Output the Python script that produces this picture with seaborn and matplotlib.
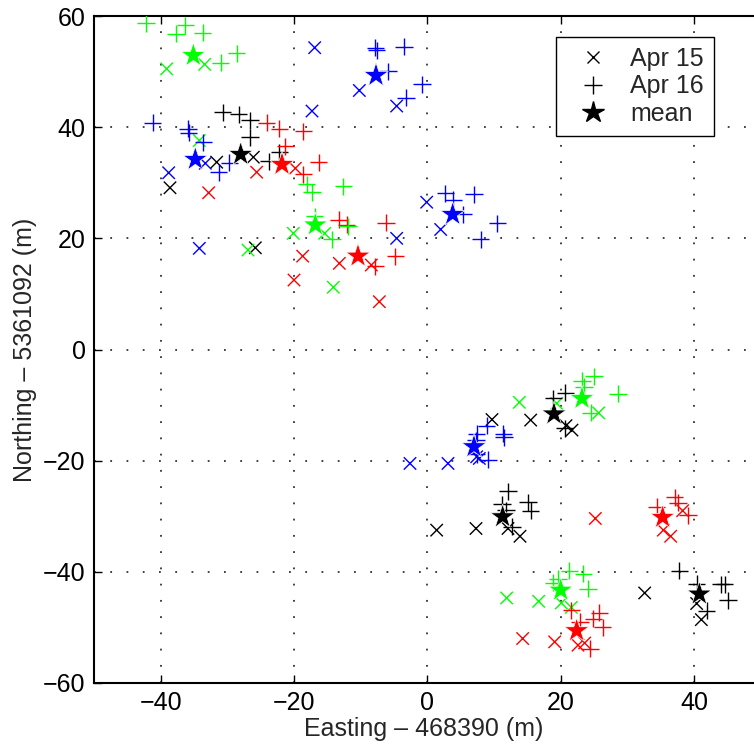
import numpy as np
import pandas as pd
import matplotlib
matplotlib.use("Agg")
import matplotlib.pyplot as plt
from matplotlib import font_manager as fm
from matplotlib.lines import Line2D
import seaborn as sns

# ---------------- data (easting, northing offsets in m) ----------------
black_apr15_x = [-31.6, -26.1, -38.6, -25.8, 9.7, 15.5, 20.8, 21.7, 1.4, 7.3, 12.1, 13.9, 32.6, 40.4, 41.1]
black_apr15_y = [33.7, 34.6, 29.1, 18.3, -12.6, -12.7, -13.7, -14.5, -32.5, -32.2, -32.2, -33.6, -43.8, -45.7, -48.6]
black_apr16_x = [-30.7, -28.3, -26.6, -26.6, -22.2, -23.8, 20.7, 18.9, 20.6, 12.1, 11.2, 15.1, 15.5, 11.8, 12.7,
                 37.8, 40.4, 44.0, 44.6, 45.1, 41.9]
black_apr16_y = [42.7, 42.3, 41.2, 38.2, 35.5, 33.9, -7.8, -8.8, -14.2, -25.5, -27.8, -27.5, -29.0, -28.9, -31.9,
                 -39.8, -42.1, -42.2, -42.2, -45.1, -47.0]
black_mean_x = [-28.0, 19.0, 11.3, 40.8]
black_mean_y = [35.1, -11.6, -30.1, -44.0]

blue_apr15_x = [-16.9, -17.3, -10.2, -4.6, -33.3, -38.8, -34.2, -0.1, 2.0, -4.6, 7.4, 7.8, -2.6, 3.1]
blue_apr15_y = [54.3, 42.9, 46.6, 43.8, 33.5, 31.8, 18.2, 26.5, 21.6, 20.0, -19.3, -19.6, -20.5, -20.5]
blue_apr16_x = [-7.8, -7.6, -3.5, -5.9, -0.8, -3.2, -41.2, -35.9, -35.8, -33.6, -29.7, -31.3, 2.7, 3.9, 5.4,
                7.0, 10.5, 8.0, 8.9, 7.4, 7.3, 11.4, 11.5, 9.1, 7.4]
blue_apr16_y = [54.3, 53.8, 54.5, 50.1, 47.7, 45.3, 40.8, 39.7, 39.0, 37.3, 33.6, 31.9, 28.1, 26.9, 24.3,
                27.9, 22.7, 19.8, -13.7, -15.2, -16.3, -15.2, -15.8, -19.8, -18.8]
blue_mean_x = [-34.8, -7.7, 3.8, 7.0]
blue_mean_y = [34.2, 49.3, 24.3, -17.5]

red_apr15_x = [-19.8, -25.6, -32.8, -18.7, -13.2, -8.4, -20.0, -7.2, 25.2, 35.4, 36.5, 38.3, 14.3, 19.1, 22.6, 23.6]
red_apr15_y = [32.6, 31.9, 28.2, 16.8, 15.5, 15.2, 12.5, 8.6, -30.4, -32.5, -33.6, -29.0, -52.0, -52.6, -53.2, -52.8]
red_apr16_x = [-24.1, -22.2, -18.6, -21.3, -18.6, -16.3, -13.3, -12.1, -6.2, -7.8, -4.8, 34.4, 37.1, 37.6, 39.1,
               21.6, 22.9, 24.9, 25.8, 26.3, 24.4]
red_apr16_y = [40.8, 39.7, 39.3, 36.6, 31.5, 33.7, 23.3, 22.4, 22.8, 15.0, 16.8, -28.3, -26.6, -27.6, -29.8,
               -46.9, -49.0, -48.4, -47.4, -50.0, -53.8]
red_mean_x = [-21.8, -10.4, 35.3, 22.4]
red_mean_y = [33.3, 16.8, -30.2, -50.6]

green_apr15_x = [-39.1, -33.4, -34.2, -20.1, -15.4, -26.9, -14.1, 13.8, 19.4, 25.7, 11.9, 16.7, 20.1, 21.6]
green_apr15_y = [50.5, 51.3, 37.6, 20.9, 20.9, 17.9, 11.2, -9.5, -9.7, -11.4, -44.7, -45.3, -45.6, -46.4]
green_apr16_x = [-42.2, -36.3, -37.7, -33.7, -31.0, -28.6, -18.1, -17.3, -12.6, -16.9, -11.9, -14.3, 25.0, 23.2,
                 23.5, 28.6, 24.5, 21.3, 23.4, 24.1, 18.9, 19.6]
green_apr16_y = [58.7, 58.3, 56.8, 57.0, 51.6, 53.3, 29.7, 28.3, 29.4, 24.0, 22.2, 19.8, -4.8, -5.6,
                 -6.7, -8.0, -11.4, -39.8, -40.3, -43.0, -42.0, -41.2]
green_mean_x = [-35.1, -16.8, 23.2, 20.0]
green_mean_y = [52.9, 22.4, -8.8, -43.3]

kinds = ["Apr 15", "Apr 16", "mean"]
x_ticks = [-40, -20, 0, 20, 40]
y_ticks = [-60, -40, -20, 0, 20, 40, 60]

series = {
    "black": [(black_apr15_x, black_apr15_y), (black_apr16_x, black_apr16_y), (black_mean_x, black_mean_y)],
    "blue": [(blue_apr15_x, blue_apr15_y), (blue_apr16_x, blue_apr16_y), (blue_mean_x, blue_mean_y)],
    "red": [(red_apr15_x, red_apr15_y), (red_apr16_x, red_apr16_y), (red_mean_x, red_mean_y)],
    "green": [(green_apr15_x, green_apr15_y), (green_apr16_x, green_apr16_y), (green_mean_x, green_mean_y)],
}
rows = []
for col, parts in series.items():
    for kind, (xs, ys) in zip(kinds, parts):
        for a, b in zip(xs, ys):
            rows.append({"easting": a, "northing": b, "colour": col, "kind": kind})
df = pd.DataFrame(rows)

palette = {"black": (0, 0, 0), "blue": (0, 0, 1), "red": (1, 0, 0), "green": (0, 1, 0)}

# ---------------- style ----------------
sns.set_theme(style="white")


def has_font(name):
    try:
        fm.findfont(fm.FontProperties(family=name), fallback_to_default=False)
        return True
    except Exception:
        return False


if has_font("Liberation Sans Narrow"):
    fam, fsize = "Liberation Sans Narrow", 22
else:
    fam, fsize = "Liberation Sans", 18
plt.rcParams["font.family"] = [fam, "DejaVu Sans"]
plt.rcParams["axes.unicode_minus"] = True

fig = plt.figure(figsize=(7.54, 7.53), dpi=100)
ax = fig.add_axes([94 / 754, 70 / 753, 1 - 94 / 754, 667 / 753])

marker_of = {"Apr 15": "x", "Apr 16": "+", "mean": "*"}
size_of = {"Apr 15": 80, "Apr 16": 150, "mean": 340}
lw_of = {"Apr 15": 1.0, "Apr 16": 1.0, "mean": 0.5}
for kind in kinds:
    sub = df[df["kind"] == kind]
    sns.scatterplot(data=sub, x="easting", y="northing", hue="colour", palette=palette,
                    marker=marker_of[kind], s=size_of[kind], linewidth=lw_of[kind],
                    legend=False, ax=ax, zorder=3)

ax.set_xlim(-50, 49)
ax.set_ylim(-60, 60)
ax.set_xticks(x_ticks)
ax.set_yticks(y_ticks)
ax.set_xlabel("Easting \u2013 468390 (m)", fontsize=fsize, labelpad=1)
ax.set_ylabel("Northing \u2013 5361092 (m)", fontsize=fsize, labelpad=4)
ax.tick_params(axis="both", which="major", direction="in", length=6, width=1,
               labelsize=fsize, top=True, right=False, bottom=True, left=True,
               colors="black", pad=6)
ax.grid(True, color=(0.2, 0.2, 0.2), linestyle=(0, (1, 8)), linewidth=1.3)
ax.set_axisbelow(True)
for side in ["left", "bottom", "top"]:
    ax.spines[side].set_visible(True)
    ax.spines[side].set_color("black")
    ax.spines[side].set_linewidth(1.5)
ax.spines["right"].set_visible(False)

handles = [
    Line2D([], [], color="black", marker="x", linestyle="none", markersize=9, markeredgewidth=1.0),
    Line2D([], [], color="black", marker="+", linestyle="none", markersize=13, markeredgewidth=1.0),
    Line2D([], [], color="black", marker="*", linestyle="none", markersize=16),
]
leg = ax.legend(handles, kinds, loc="upper right", bbox_to_anchor=(0.939, 0.969),
                borderaxespad=0, fontsize=fsize, frameon=True, fancybox=False,
                edgecolor="black", framealpha=1, handlelength=2.1, handletextpad=0.45,
                labelspacing=0.15, borderpad=0.4)
leg.get_frame().set_linewidth(1.0)

fig.savefig("out.png", dpi=100)
